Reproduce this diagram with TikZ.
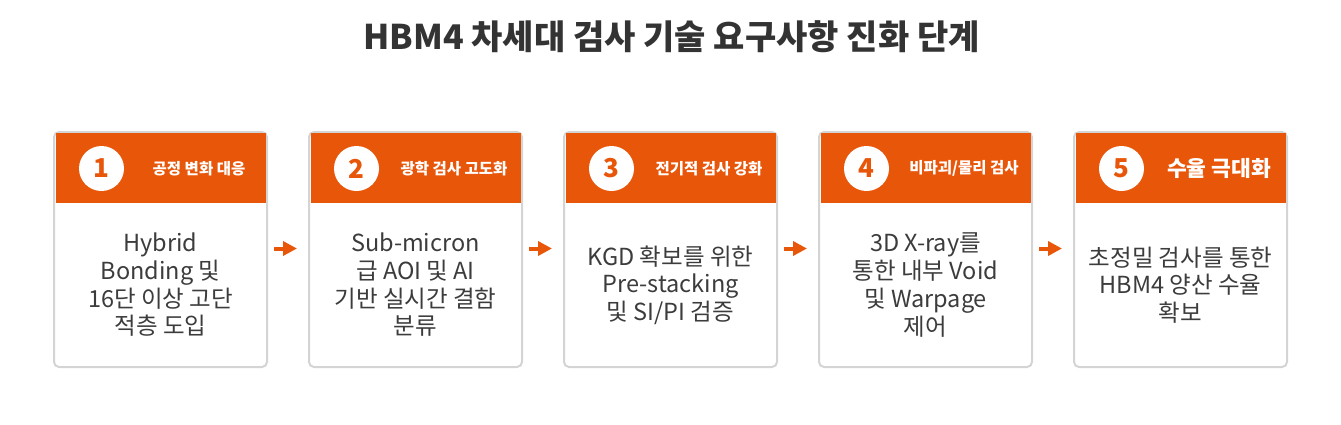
\documentclass[tikz,border=0pt]{standalone}
\usepackage{fontspec}
\setmainfont{Noto Sans CJK KR}
\usetikzlibrary{arrows.meta}
\definecolor{hdrorange}{RGB}{232,86,10}
\definecolor{cardborder}{RGB}{212,212,212}
\definecolor{titlegray}{RGB}{51,51,51}
\definecolor{bodygray}{RGB}{60,60,60}
\tikzset{
  card/.style={draw=cardborder, line width=2pt, fill=white, rounded corners=5pt,
    minimum width=213pt, minimum height=235pt, inner sep=0pt},
  hdr/.style={fill=hdrorange, minimum width=210pt, minimum height=70pt, inner sep=0pt, anchor=north west},
  numcirc/.style={circle, fill=white, minimum size=45pt, inner sep=0pt, text=hdrorange,
    font=\fontsize{26}{30}\selectfont\bfseries},
  hdrtext/.style={text=white, font=\fontsize{15.5}{18}\selectfont\bfseries, inner sep=0pt},
  hdrbig/.style={text=white, font=\fontsize{21.5}{24}\selectfont\bfseries, inner sep=0pt},
  bodytext/.style={text=bodygray, align=center, font=\fontsize{23.5}{27.7}\selectfont, inner sep=0pt},
  flowarrow/.style={draw=hdrorange, line width=4pt, -{Triangle[length=14pt,width=14pt]},
    shorten <=6pt, shorten >=11pt},
}
\begin{document}
\begin{tikzpicture}[x=1pt,y=-1pt]
\useasboundingbox (0,0) rectangle (1341,424);
\node[text=titlegray, font=\fontsize{34}{38}\selectfont\bfseries] (title) at (671.5,37) {HBM4 차세대 검사 기술 요구사항 진화 단계};
\foreach \i/\hd/\hs/\bd in {
  1/{공정 변화 대응}/hdrtext/{Hybrid\\Bonding 및\\16단 이상 고단\\적층 도입},
  2/{광학 검사 고도화}/hdrtext/{Sub-micron\\급 AOI 및 AI\\기반 실시간 결함\\분류},
  3/{전기적 검사 강화}/hdrtext/{KGD 확보를 위한\\Pre-stacking\\및 SI/PI 검증},
  4/{비파괴/물리 검사}/hdrtext/{3D X-ray를\\통한 내부 Void\\및 Warpage\\제어},
  5/{수율 극대화}/hdrbig/{초정밀 검사를 통한\\HBM4 양산 수율\\확보}} {
  \pgfmathsetmacro{\xo}{54+255*(\i-1)}
  \node[card] (c\i) at (\xo+106.5,249.5) {};
  \node[hdr] (h\i) at (\xo+1.5,133) {};
  \node[numcirc] (n\i) at (\xo+47.5,168.5) {\i};
  \node[\hs] (t\i) at (\xo+145,168.5) {\hd};
  \node[bodytext] (b\i) at (\xo+106.5,285) {\bd};
}
\foreach \a/\b in {1/2,2/3,3/4,4/5} {
  \draw[flowarrow] ([yshift=1pt]c\a.east) -- ([yshift=1pt]c\b.west);
}
\end{tikzpicture}
\end{document}
